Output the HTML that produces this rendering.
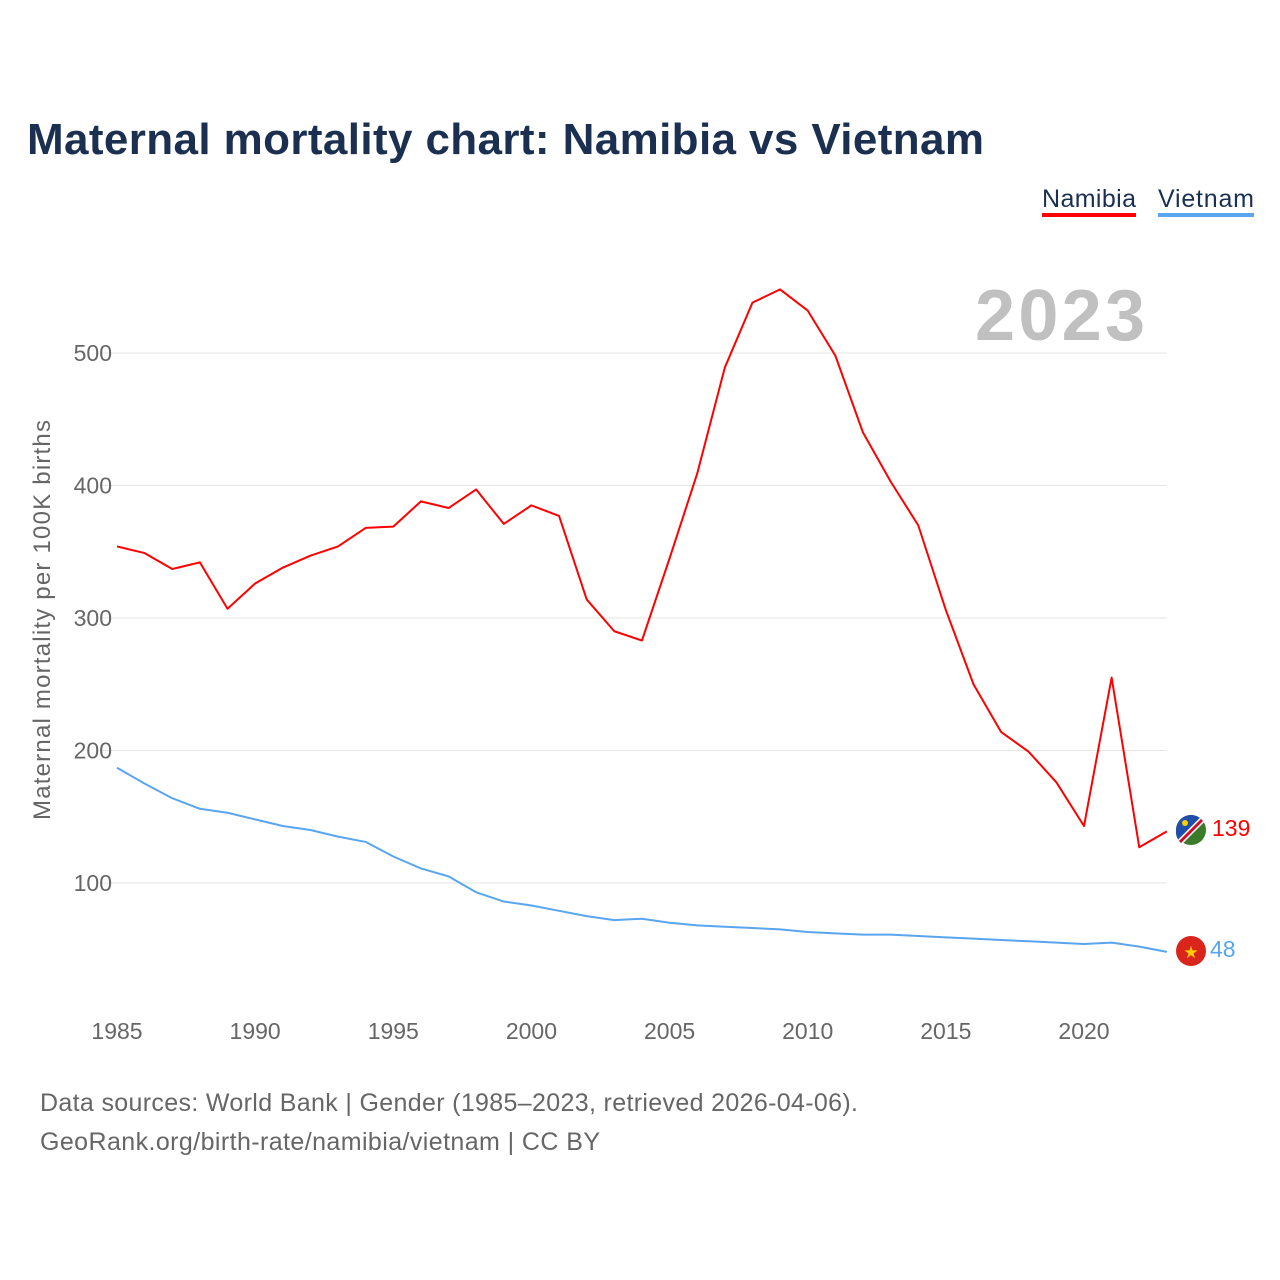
<!DOCTYPE html>
<html><head><meta charset="utf-8">
<style>
body{margin:0;background:#fff;font-family:"Liberation Sans",sans-serif;}
svg{display:block}
</style></head>
<body>
<svg width="1280" height="1280" xmlns="http://www.w3.org/2000/svg">
<text x="27" y="154" font-size="44" font-weight="bold" fill="#1b3050" textLength="957">Maternal mortality chart: Namibia vs Vietnam</text>
<g>
<text x="1042" y="207" font-size="25" fill="#1b3050" textLength="94">Namibia</text>
<rect x="1042" y="213" width="94" height="4" fill="#ff0000"/>
<text x="1158" y="207" font-size="25" fill="#1b3050" textLength="96">Vietnam</text>
<rect x="1158" y="213" width="96" height="4" fill="#5aa5ef"/>
</g>
<text x="1145" y="340" font-size="72" font-weight="bold" fill="#c0c0c0" text-anchor="end" textLength="170">2023</text>
<g id="grid"></g>
<g id="xt"></g>
<text transform="translate(50,620) rotate(-90)" font-size="24" fill="#666" text-anchor="middle" textLength="400">Maternal mortality per 100K births</text>
<g id="series"></g>
<g>
<circle cx="1191" cy="830" r="15" fill="#3b7a2a"/>
<path d="M1176,830 A15,15 0 0 1 1191,815 L1191,815 A15,15 0 0 1 1202,820 L1180,842 A15,15 0 0 1 1176,830Z" fill="#1f4fa8"/>
<line x1="1180" y1="842" x2="1202" y2="820" stroke="#fff" stroke-width="6"/>
<line x1="1180" y1="842" x2="1202" y2="820" stroke="#c8102e" stroke-width="3"/>
<circle cx="1185" cy="823" r="3" fill="#ffce00"/>
</g>
<g>
<circle cx="1191" cy="951" r="15" fill="#da251d"/>
<text x="1191" y="958" font-size="17" fill="#ffcd00" text-anchor="middle">★</text>
</g>
<text x="1212" y="836" font-size="23" fill="#ff0000">139</text>
<text x="1210" y="957" font-size="23" fill="#5aa5ef">48</text>
<text x="40" y="1111" font-size="25" fill="#666" textLength="818">Data sources: World Bank | Gender (1985–2023, retrieved 2026-04-06).</text>
<text x="40" y="1150" font-size="25" fill="#666" textLength="560">GeoRank.org/birth-rate/namibia/vietnam | CC BY</text>
</svg>
<script>
const years=[];for(let y=1985;y<=2023;y++)years.push(y);
const namibia=[354,349,337,342,307,326,338,347,354,368,369,388,383,397,371,385,377,314,290,283,345,409,489,538,548,532,498,440,403,370,306,250,214,199,176,143,255,127,139];
const vietnam=[187,175,164,156,153,148,143,140,135,131,120,111,105,93,86,83,79,75,72,73,70,68,67,66,65,63,62,61,61,60,59,58,57,56,55,54,55,52,48];
const yTicks=[100,200,300,400,500];
const xTicks=[1985,1990,1995,2000,2005,2010,2015,2020];
const X=y=>117+(y-1985)*(1084-117)/35;
const Y=v=>883-(v-100)*1.325;
const NS="http://www.w3.org/2000/svg";
const grid=document.getElementById('grid');
yTicks.forEach(t=>{
 const l=document.createElementNS(NS,'line');
 l.setAttribute('x1',100);l.setAttribute('x2',1167);l.setAttribute('y1',Y(t));l.setAttribute('y2',Y(t));
 l.setAttribute('stroke','#e6e6e6');l.setAttribute('stroke-width','1');
 
 
 grid.appendChild(l);
 const tx=document.createElementNS(NS,'text');
 tx.setAttribute('x',112);tx.setAttribute('y',Y(t)+8);tx.setAttribute('text-anchor','end');
 tx.setAttribute('font-size','23');tx.setAttribute('fill','#666');tx.textContent=t;
 
 
 grid.appendChild(tx);
});
const xt=document.getElementById('xt');
xTicks.forEach(t=>{
 const tx=document.createElementNS(NS,'text');
 tx.setAttribute('x',X(t));tx.setAttribute('y',1039);tx.setAttribute('text-anchor','middle');
 tx.setAttribute('font-size','23');tx.setAttribute('fill','#666');tx.textContent=t;
 
 
 xt.appendChild(tx);
});
const sg=document.getElementById('series');
function line(vals,color,name){
 const p=document.createElementNS(NS,'polyline');
 p.setAttribute('points',vals.map((v,i)=>X(years[i])+','+Y(v)).join(' '));
 p.setAttribute('fill','none');p.setAttribute('stroke',color);p.setAttribute('stroke-width','2');
 p.setAttribute('stroke-linejoin','round');
 
 
 sg.appendChild(p);
}
line(vietnam,'#5aa5ef','vietnam-line');
line(namibia,'#ff0000','namibia-line');
</script>
</body></html>
